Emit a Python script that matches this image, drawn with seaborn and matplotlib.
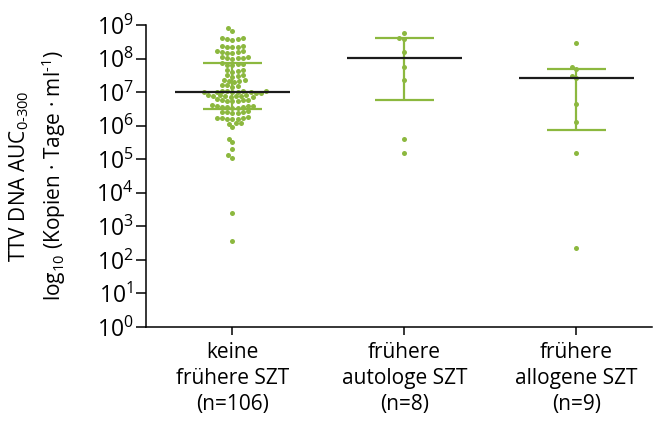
import numpy as np
import pandas as pd
import matplotlib
matplotlib.use("Agg")
import matplotlib.pyplot as plt
import seaborn as sns
from matplotlib.ticker import LogFormatterSciNotation, NullLocator

sns.set_theme(style="ticks")
plt.rcParams["font.family"] = ["Open Sans", "DejaVu Sans"]
plt.rcParams["mathtext.fontset"] = "custom"
plt.rcParams["mathtext.rm"] = "Open Sans"
plt.rcParams["mathtext.it"] = "Open Sans:italic"
plt.rcParams["mathtext.bf"] = "Open Sans:bold"

# ---- data: log10 of TTV DNA AUC(0-300) per patient ----
categories = ["keine\nfrühere SZT\n(n=106)",
              "frühere\nautologe SZT\n(n=8)",
              "frühere\nallogene SZT\n(n=9)"]

log_auc_keine = [
    8.90, 8.82,
    8.62, 8.60, 8.57, 8.55, 8.59,
    8.38, 8.36, 8.34, 8.33, 8.35,
    8.22, 8.20, 8.19, 8.18, 8.17, 8.21,
    8.05, 8.03, 8.02, 8.01, 8.00, 8.04,
    7.87, 7.85, 7.84, 7.82, 7.80,
    7.67, 7.65, 7.63, 7.61,
    7.52, 7.50, 7.48, 7.46,
    7.37, 7.35, 7.34, 7.32, 7.30,
    7.22, 7.20, 7.18, 7.16,
    7.04, 7.03, 7.02, 7.02, 7.01, 7.01, 7.00, 7.00, 6.99, 6.98, 6.97,
    6.92, 6.91, 6.90, 6.89, 6.89, 6.88, 6.87, 6.86, 6.85,
    6.78, 6.77, 6.76, 6.75, 6.74, 6.73, 6.72,
    6.61, 6.60, 6.59, 6.58, 6.57, 6.56, 6.55, 6.54, 6.53,
    6.43, 6.42, 6.41, 6.40, 6.39, 6.38,
    6.25, 6.24, 6.23, 6.22, 6.21, 6.20, 6.19,
    6.09, 6.07, 6.05,
    5.95,
    5.61, 5.50, 5.31, 5.12, 5.05, 3.40, 2.55,
]
log_auc_autolog = [8.77, 8.62, 8.58, 8.19, 7.74, 7.35, 5.61, 5.20]
log_auc_allogen = [8.47, 7.75, 7.70, 7.47, 7.41, 6.66, 6.12, 5.20, 2.34]

# group summaries (log10): median and interquartile range
median_log = [7.006, 8.02, 7.41]
q1_log = [6.51, 6.77, 5.875]
q3_log = [7.86, 8.62, 7.69]

y_ticks_exp = list(range(0, 10))

GREEN = "#8cb83f"
DARK = "#1c1c1c"

groups = [log_auc_keine, log_auc_autolog, log_auc_allogen]
df = pd.DataFrame({
    "gruppe": np.repeat(categories, [len(g) for g in groups]),
    "auc": np.power(10.0, np.concatenate(groups)),
})

fig = plt.figure(figsize=(6.54, 4.25), dpi=100)
ax = fig.add_axes([0.2232, 0.2306, 0.774, 0.7106])
ax.set_yscale("log")
ax.set_ylim(1, 1e9)

sns.swarmplot(data=df, x="gruppe", y="auc", order=categories, color=GREEN,
              size=3.6, linewidth=0, ax=ax, zorder=3, clip_on=False)

for i in range(len(categories)):
    lo, hi, med = 10 ** q1_log[i], 10 ** q3_log[i], 10 ** median_log[i]
    ax.plot([i, i], [lo, hi], color=GREEN, lw=1.6, zorder=2, solid_capstyle="butt")
    for v in (lo, hi):
        ax.plot([i - 0.171, i + 0.171], [v, v], color=GREEN, lw=1.6, zorder=2,
                solid_capstyle="butt")
    ax.plot([i - 0.336, i + 0.336], [med, med], color=DARK, lw=1.6, zorder=4,
            solid_capstyle="butt")

ax.set_xlim(-0.503, 2.44)
ax.set_yticks([10.0 ** e for e in y_ticks_exp])
ax.yaxis.set_major_formatter(LogFormatterSciNotation(base=10))
ax.yaxis.set_minor_locator(NullLocator())

for side in ("top", "right"):
    ax.spines[side].set_visible(False)
for side in ("left", "bottom"):
    ax.spines[side].set_color("black")
    ax.spines[side].set_linewidth(1.1)

ax.tick_params(axis="y", length=7, width=1.1, color="black", labelsize=16.5,
               pad=2, labelcolor="black")
ax.tick_params(axis="x", length=6, width=1.1, color="black", labelsize=15,
               pad=5, labelcolor="black")
for lbl in ax.get_xticklabels():
    lbl.set_linespacing(1.3)

ax.set_xlabel("")
ax.set_ylabel("TTV DNA AUC$_{\\text{0-300}}$\n"
              "log$_{10}$ (Kopien · Tage · ml$^{\\text{-1}}$)",
              fontsize=15, color="black", linespacing=1.4, labelpad=20)

fig.savefig("out.png", dpi=100, facecolor="white")
